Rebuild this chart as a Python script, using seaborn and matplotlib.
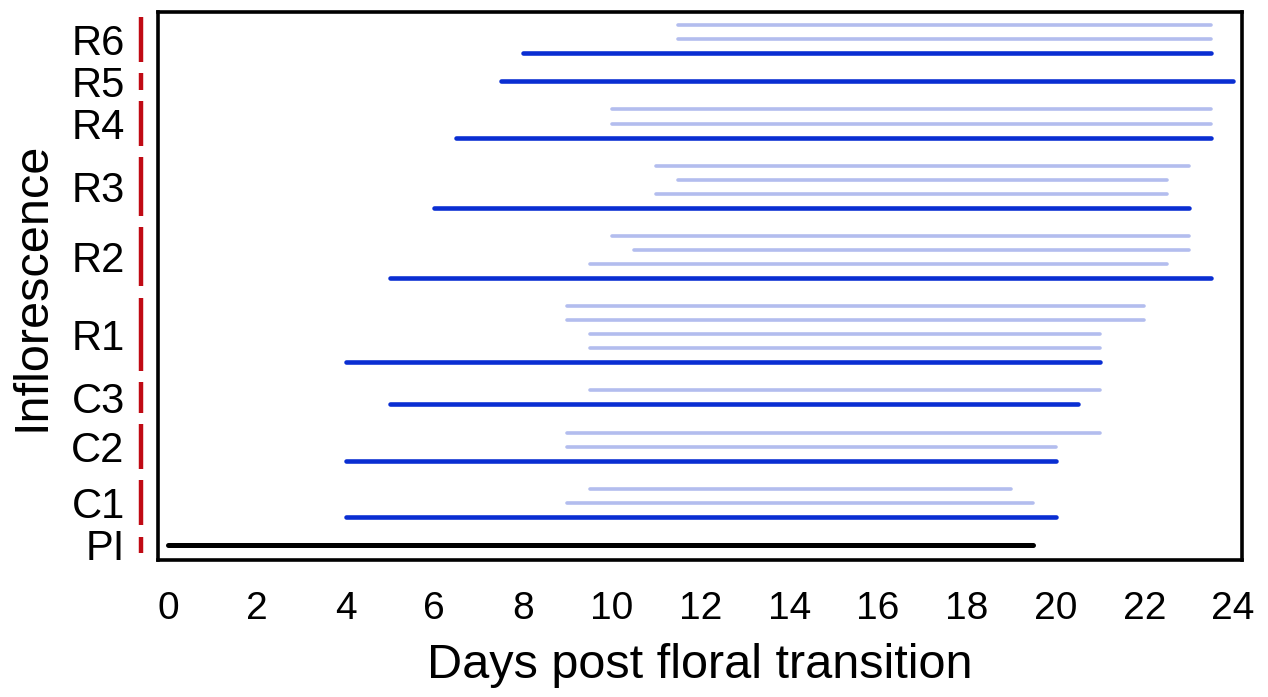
import matplotlib
matplotlib.use("Agg")
import matplotlib.pyplot as plt
import seaborn as sns
import pandas as pd

# ---------------- data ----------------
groups = ["PI", "C1", "C2", "C3", "R1", "R2", "R3", "R4", "R5", "R6"]

# main (dark) interval per group: start / end day
main_start = [0, 4, 4, 5, 4, 5, 6, 6.5, 7.5, 8]
main_end = [19.5, 20, 20, 20.5, 21, 23.5, 23, 23.5, 24, 23.5]

# light intervals per group, listed bottom to top
light_PI = []
light_C1 = [(9, 19.5), (9.5, 19)]
light_C2 = [(9, 20), (9, 21)]
light_C3 = [(9.5, 21)]
light_R1 = [(9.5, 21), (9.5, 21), (9, 22), (9, 22)]
light_R2 = [(9.5, 22.5), (10.5, 23), (10, 23)]
light_R3 = [(11, 22.5), (11.5, 22.5), (11, 23)]
light_R4 = [(10, 23.5), (10, 23.5)]
light_R5 = []
light_R6 = [(11.5, 23.5), (11.5, 23.5)]
lights = [light_PI, light_C1, light_C2, light_C3, light_R1,
          light_R2, light_R3, light_R4, light_R5, light_R6]

x_ticks = list(range(0, 25, 2))
x_label = "Days post floral transition"
y_label = "Inflorescence"

# ---------------- build long table ----------------
rows = []
centers, spans = [], []
pos = 0
seg = 0
for g, s, e, lt in zip(groups, main_start, main_end, lights):
    kind = "pi" if g == "PI" else "main"
    lo = pos
    for xv in (s, e):
        rows.append(dict(seg=seg, day=xv, pos=pos, kind=kind))
    seg += 1
    for (ls, le) in lt:
        pos += 1
        for xv in (ls, le):
            rows.append(dict(seg=seg, day=xv, pos=pos, kind="light"))
        seg += 1
    hi = pos
    centers.append((lo + hi) / 2)
    spans.append((lo, hi))
    pos += 2
df = pd.DataFrame(rows)

# ---------------- plot ----------------
sns.set_theme(style="white")
plt.rcParams["font.family"] = ["Liberation Sans", "DejaVu Sans"]
plt.rcParams["lines.solid_capstyle"] = "round"
for k in ("text.color", "axes.labelcolor", "xtick.color", "ytick.color"):
    plt.rcParams[k] = "black"

fig = plt.figure(figsize=(12.68, 6.97), dpi=100)
ax = fig.add_axes([158 / 1268, 1 - 560 / 697, (1242 - 158) / 1268, (560 - 12) / 697])

palette = {"main": "#0A2ED2", "light": "#B3BDEE", "pi": "#000000"}
sizes = {"main": 3.3, "light": 2.6, "pi": 3.6}
sns.lineplot(data=df, x="day", y="pos", hue="kind", size="kind", units="seg",
             estimator=None, sort=False, palette=palette, sizes=sizes,
             legend=False, ax=ax)

# red group brackets on the left
ytr = ax.get_yaxis_transform()
for lo, hi in spans:
    ax.plot([-0.016, -0.016], [lo - 0.6, hi + 0.6], color="#C00A14", lw=3.2,
            solid_capstyle="butt", transform=ytr, clip_on=False)

ax.set_xlim(-0.225, 24.2)
ax.set_ylim(-1.07, 37.94)
ax.set_xticks(x_ticks)
ax.set_xticklabels([str(t) for t in x_ticks])
ax.set_yticks(centers)
ax.set_yticklabels(groups)
ax.tick_params(axis="x", length=0, pad=22, labelsize=28)
ax.tick_params(axis="y", length=0, pad=24, labelsize=30)
ax.set_xlabel(x_label, fontsize=35, labelpad=12)
ax.set_ylabel(y_label, fontsize=35, labelpad=12)
for sp in ax.spines.values():
    sp.set_visible(True)
    sp.set_color("black")
    sp.set_linewidth(2.6)

fig.savefig("out.png", dpi=100)
